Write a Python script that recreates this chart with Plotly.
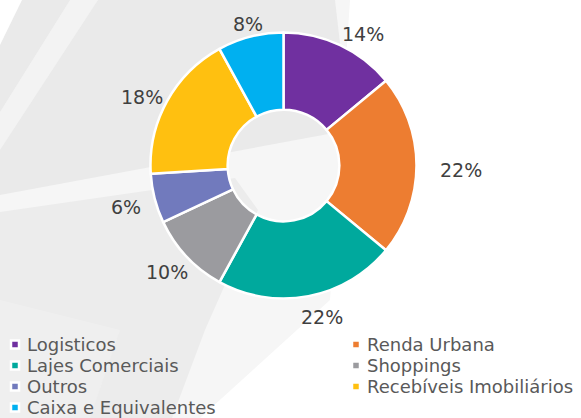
import math
import plotly.graph_objects as go

# ---- data ----
categories = ["Logisticos", "Renda Urbana", "Lajes Comerciais", "Shoppings",
              "Outros", "Recebíveis Imobiliários", "Caixa e Equivalentes"]
values = [14, 22, 22, 10, 6, 18, 8]
colors = ["#7030A0", "#ED7D31", "#00A99D", "#9B9B9F",
          "#717ABD", "#FFC010", "#00B0F0"]

# ---- geometry (pixels) ----
W, H = 581, 418
CX, CY, R = 283.5, 165.5, 133
HOLE = 0.42
FONT = "DejaVu Sans, Verdana, sans-serif"
LABEL_COLOR = "#404040"
LEGEND_COLOR = "#595959"

def px(x):
    return x / W

def py(y):
    return 1 - y / H

fig = go.Figure()

fig.add_trace(go.Pie(
    labels=categories,
    values=values,
    sort=False,
    direction="clockwise",
    rotation=0,
    hole=HOLE,
    marker=dict(colors=colors, line=dict(color="white", width=2.5)),
    textinfo="none",
    hoverinfo="label+percent",
    showlegend=False,
    domain=dict(x=[px(CX - R), px(CX + R)], y=[py(CY + R), py(CY - R)]),
))

annotations = []
shapes = []

# faint watermark in the background
def poly(points, color):
    path = "M " + " L ".join(f"{px(a)},{py(b)}" for a, b in points) + " Z"
    return dict(type="path", xref="paper", yref="paper", path=path,
                fillcolor=color, line=dict(width=0), layer="below")

shapes += [
    poly([(0, 0), (350, 0), (330, 300), (200, 418), (0, 418)], "#f6f6f6"),
    poly([(0, 0), (335, 0), (350, 130), (0, 195)], "#eaeaea"),
    poly([(0, 0), (22, 0), (0, 45)], "#ffffff"),
    poly([(70, 0), (98, 0), (0, 150), (0, 112)], "#f3f3f3"),
    poly([(0, 212), (235, 178), (258, 210), (205, 330), (172, 418), (0, 418)], "#ececec"),
    poly([(0, 300), (120, 330), (90, 418), (0, 418)], "#efefef"),
]

# percentage labels placed outside each slice at its mid angle
LBL_A, LBL_B, LBL_DX, LBL_DY = 170, 150, 7, 4
total = sum(values)
cum = 0.0
for v in values:
    theta = 2 * math.pi * (cum + v / 2) / total
    cum += v
    x = CX + LBL_DX + LBL_A * math.sin(theta)
    y = CY + LBL_DY - LBL_B * math.cos(theta)
    annotations.append(dict(
        x=px(x), y=py(y), xref="paper", yref="paper",
        text=f"{round(100 * v / total)}%", showarrow=False,
        xanchor="center", yanchor="middle",
        font=dict(family=FONT, size=19, color=LABEL_COLOR),
    ))

# legend (two columns, row-major)
LEG_Y0, LEG_ROWH = 344.5, 21
LEG_MX = [15, 356]
LEG_TX = [25, 365]
MS = 4
for i, (name, c) in enumerate(zip(categories, colors)):
    row, col = divmod(i, 2)
    y = LEG_Y0 + row * LEG_ROWH
    mx = LEG_MX[col]
    shapes.append(dict(
        type="rect", xref="paper", yref="paper",
        x0=px(mx - MS), x1=px(mx + MS), y0=py(y + MS), y1=py(y - MS),
        fillcolor=c, line=dict(color="white", width=2.5), layer="above",
    ))
    annotations.append(dict(
        x=px(LEG_TX[col]), y=py(y), xref="paper", yref="paper",
        text=name, showarrow=False, xanchor="left", yanchor="middle",
        font=dict(family=FONT, size=18, color=LEGEND_COLOR),
    ))

fig.update_layout(
    width=W, height=H,
    margin=dict(l=0, r=0, t=0, b=0),
    paper_bgcolor="white", plot_bgcolor="white",
    showlegend=False,
    annotations=annotations,
    shapes=shapes,
    font=dict(family=FONT, color=LABEL_COLOR),
)

fig.write_html("out.html", config={"displayModeBar": False},
               post_script="document.body.style.margin='0';")
